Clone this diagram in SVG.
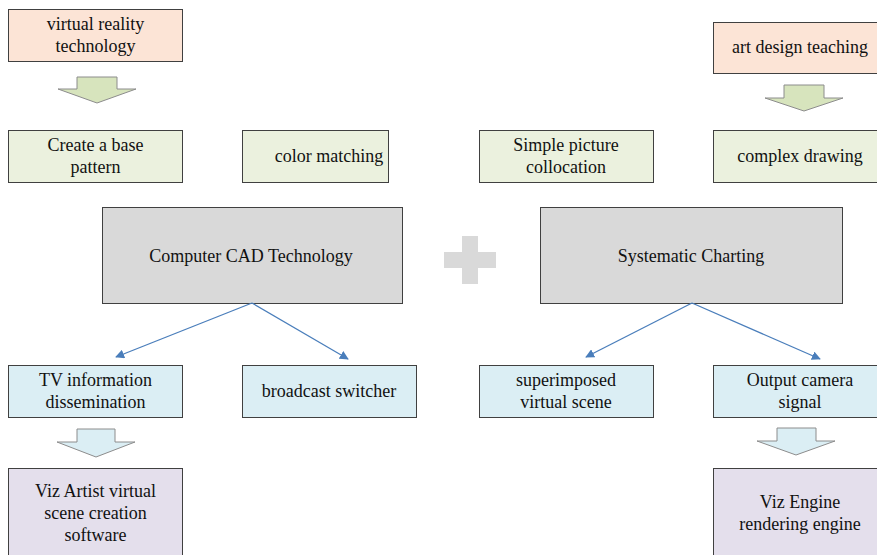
<svg xmlns="http://www.w3.org/2000/svg" width="877" height="555" viewBox="0 0 877 555">
<defs>
<style>
.b{stroke:#404040;stroke-width:1}
.peach{fill:#fce4d6}
.green{fill:#ebf1de}
.gray{fill:#d9d9d9}
.blue{fill:#dbeef4}
.purple{fill:#e4dfec}
text{font-family:'Liberation Serif','Times New Roman','DejaVu Serif',serif;font-size:18px;fill:#111;text-anchor:middle}
.conn{stroke:#4a7ebb;stroke-width:1.3;fill:none}
.ga{fill:#d7e4bd;stroke:#8c8c8c;stroke-width:1}
.ba{fill:#dbeef4;stroke:#8c8c8c;stroke-width:1}
</style>
<marker id="ah" viewBox="0 0 10 10" refX="9" refY="5" markerWidth="9" markerHeight="9" markerUnits="userSpaceOnUse" orient="auto">
<path d="M0,0 L10,5 L0,10 z" fill="#4a7ebb"/>
</marker>
</defs>
<rect width="877" height="555" fill="#fff"/>

<g id="vr"><rect class="b peach" x="8.5" y="9.5" width="174" height="52"/><text x="95.5" y="30">virtual reality</text><text x="95.5" y="52">technology</text></g>
<g id="art"><rect class="b peach" x="713.5" y="22.5" width="164" height="51"/><text x="800" y="53">art design teaching</text></g>

<g id="arrow1"><path class="ga" d="M77,77 H117 V89 H136 L97,103 L58,89 H77 Z"/></g>
<g id="arrow2"><path class="ga" d="M784,85 H824 V98 H843 L804,111 L765,98 H784 Z"/></g>

<g id="base"><rect class="b green" x="8.5" y="130.5" width="174" height="52"/><text x="95.5" y="151">Create a base</text><text x="95.5" y="173">pattern</text></g>
<g id="color"><rect class="b green" x="242.5" y="130.5" width="146" height="52"/><text x="329" y="162">color matching</text></g>
<g id="simple"><rect class="b green" x="479.5" y="130.5" width="174" height="52"/><text x="566" y="151">Simple picture</text><text x="566" y="173">collocation</text></g>
<g id="complex"><rect class="b green" x="713.5" y="130.5" width="164" height="52"/><text x="800" y="162">complex drawing</text></g>

<g id="cad"><rect class="b gray" x="102.5" y="207.5" width="300" height="96"/><text x="251" y="262">Computer CAD Technology</text></g>
<g id="plus"><path d="M462,236 H478 V252 H496 V268 H478 V284 H462 V268 H444 V252 H462 Z" fill="#d9d9d9"/></g>
<g id="chart"><rect class="b gray" x="540.5" y="207.5" width="302" height="96"/><text x="691" y="262">Systematic Charting</text></g>

<g id="connectors">
<line class="conn" x1="252" y1="303" x2="116" y2="357" marker-end="url(#ah)"/>
<line class="conn" x1="252" y1="303" x2="348" y2="359" marker-end="url(#ah)"/>
<line class="conn" x1="692" y1="303" x2="586" y2="357" marker-end="url(#ah)"/>
<line class="conn" x1="692" y1="303" x2="820" y2="359" marker-end="url(#ah)"/>
</g>

<g id="tv"><rect class="b blue" x="8.5" y="365.5" width="174" height="52"/><text x="95.5" y="386">TV information</text><text x="95.5" y="408">dissemination</text></g>
<g id="broadcast"><rect class="b blue" x="242.5" y="365.5" width="174" height="52"/><text x="329" y="397">broadcast switcher</text></g>
<g id="super"><rect class="b blue" x="479.5" y="365.5" width="174" height="52"/><text x="566" y="386">superimposed</text><text x="566" y="408">virtual scene</text></g>
<g id="output"><rect class="b blue" x="713.5" y="365.5" width="164" height="52"/><text x="800" y="386">Output camera</text><text x="800" y="408">signal</text></g>

<g id="arrow3"><path class="ba" d="M77,429 H115 V442 H135 L96,457 L57,442 H77 Z"/></g>
<g id="arrow4"><path class="ba" d="M777,428 H816 V441 H835 L796,455 L757,441 H777 Z"/></g>

<g id="viz"><rect class="b purple" x="8.5" y="468.5" width="174" height="100"/><text x="95.5" y="497">Viz Artist virtual</text><text x="95.5" y="519">scene creation</text><text x="95.5" y="541">software</text></g>
<g id="engine"><rect class="b purple" x="713.5" y="468.5" width="164" height="100"/><text x="800" y="508">Viz Engine</text><text x="800" y="530">rendering engine</text></g>
</svg>
